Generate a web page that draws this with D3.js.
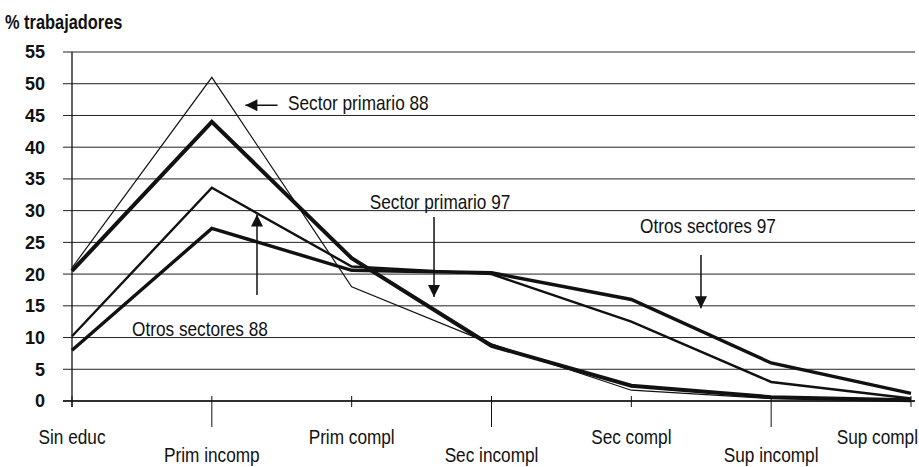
<!DOCTYPE html>
<meta charset="utf-8">
<style>
body { margin: 0; background: #fff; }
svg text { font-family: "Liberation Sans", Arial, sans-serif; fill: #111; }
.grid line { stroke: #222; stroke-width: 1; }
.series path { fill: none; stroke: #111; stroke-linejoin: miter; }
</style>
<svg width="919" height="467"></svg>
<script src="https://d3js.org/d3.v7.min.js"></script>
<script>
// chart data
var categories = ["Sin educ", "Prim incomp", "Prim compl", "Sec incompl", "Sec compl", "Sup incompl", "Sup compl"];
var yTicks = [0, 5, 10, 15, 20, 25, 30, 35, 40, 45, 50, 55];

var primario88 = [21, 51, 18, 9, 1.7, 0.4, 0];
var primario97 = [20.5, 44, 22.5, 8.7, 2.4, 0.6, 0.1];
var otros88 = [10.2, 33.6, 21.2, 20, 12.5, 3, 0.4];
var otros97 = [8, 27.2, 20.6, 20.2, 16, 6, 1.2];

var series = [
  { name: "Sector primario 88", values: primario88, width: 1.2 },
  { name: "Otros sectores 88", values: otros88, width: 2.4 },
  { name: "Otros sectores 97", values: otros97, width: 3.4 },
  { name: "Sector primario 97", values: primario97, width: 4 }
];

var svg = d3.select("svg"),
    width = +svg.attr("width"),
    height = +svg.attr("height");

var x = d3.scalePoint().domain(categories).range([72, 911]);
var y = d3.scaleLinear().domain([0, 55]).range([401, 52]);
// position between categories (by index) for the notes
var xi = d3.scaleLinear().domain([0, categories.length - 1]).range(x.range());

// narrow type, like the original print
var narrow = 0.82;
function place(px, py) { return "translate(" + px + "," + py + ") scale(" + narrow + ",1)"; }

// title
svg.append("text")
    .attr("transform", place(5, 29))
    .style("font-size", "20px").style("font-weight", "bold")
    .text("% trabajadores");

// gridlines
svg.append("g").attr("class", "grid")
  .selectAll("line")
  .data(yTicks)
  .enter().append("line")
    .attr("x1", 63).attr("x2", 915)
    .attr("y1", function(d) { return y(d); })
    .attr("y2", function(d) { return y(d); });

// y axis line
svg.append("line")
    .attr("x1", x(categories[0])).attr("x2", x(categories[0]))
    .attr("y1", y(55)).attr("y2", y(0) + 6)
    .attr("stroke", "#111").attr("stroke-width", 1.3);

// y tick labels
svg.append("g")
  .selectAll("text")
  .data(yTicks)
  .enter().append("text")
    .attr("x", 45)
    .attr("y", function(d) { return y(d); })
    .attr("dy", "0.36em")
    .attr("text-anchor", "end")
    .style("font-size", "18px").style("font-weight", "bold")
    .text(function(d) { return d; });

// x axis line + ticks
svg.append("line")
    .attr("x1", 63).attr("x2", 915)
    .attr("y1", y(0)).attr("y2", y(0))
    .attr("stroke", "#111").attr("stroke-width", 1.5);

svg.append("g")
  .selectAll("line")
  .data(categories)
  .enter().append("line")
    .attr("x1", function(d) { return x(d); })
    .attr("x2", function(d) { return x(d); })
    .attr("y1", y(0) - 5)
    .attr("y2", function(d, i) { return i % 2 ? y(0) + 26 : y(0) + 6; })
    .attr("stroke", "#111").attr("stroke-width", 1);

svg.append("g")
  .selectAll("text")
  .data(categories)
  .enter().append("text")
    .attr("transform", function(d, i) {
      var px = i === categories.length - 1 ? width - 1 : x(d);
      return place(px, i % 2 ? 462 : 444);
    })
    .attr("text-anchor", function(d, i) { return i === categories.length - 1 ? "end" : "middle"; })
    .style("font-size", "21px")
    .text(function(d) { return d; });

// lines
var line = d3.line()
    .x(function(d, i) { return x(categories[i]); })
    .y(function(d) { return y(d); });

svg.append("g").attr("class", "series")
  .selectAll("path")
  .data(series)
  .enter().append("path")
    .attr("stroke-width", function(d) { return d.width; })
    .attr("d", function(d) { return line(d.values); });

// arrow heads
var defs = svg.append("defs");
defs.append("marker")
    .attr("id", "head")
    .attr("viewBox", "0 0 10 10")
    .attr("refX", 10).attr("refY", 5)
    .attr("markerUnits", "userSpaceOnUse")
    .attr("markerWidth", 13).attr("markerHeight", 12)
    .attr("orient", "auto")
  .append("path")
    .attr("d", "M0,0L10,5L0,10Z")
    .attr("fill", "#111");

// notes: text at [index, value], arrow from -> to
var notes = [
  { text: "Sector primario 88", at: [1.545, 45.9], anchor: "start", from: [1.47, 46.6], to: [1.24, 46.6] },
  { text: "Sector primario 97", at: [2.632, 30.2], anchor: "middle", from: [2.589, 29.0], to: [2.589, 16.4] },
  { text: "Otros sectores 97", at: [4.548, 26.5], anchor: "middle", from: [4.498, 23.0], to: [4.498, 14.6] },
  { text: "Otros sectores 88", at: [0.915, 10.3], anchor: "middle", from: [1.323, 16.7], to: [1.323, 29.4] }
];

var note = svg.append("g").selectAll("g").data(notes).enter().append("g");

note.append("text")
    .attr("transform", function(d) { return place(xi(d.at[0]), y(d.at[1])); })
    .attr("text-anchor", function(d) { return d.anchor; })
    .style("font-size", "21px")
    .text(function(d) { return d.text; });

note.append("line")
    .attr("x1", function(d) { return xi(d.from[0]); })
    .attr("y1", function(d) { return y(d.from[1]); })
    .attr("x2", function(d) { return xi(d.to[0]); })
    .attr("y2", function(d) { return y(d.to[1]); })
    .attr("stroke", "#111").attr("stroke-width", 1.5)
    .attr("marker-end", "url(#head)");
</script>
